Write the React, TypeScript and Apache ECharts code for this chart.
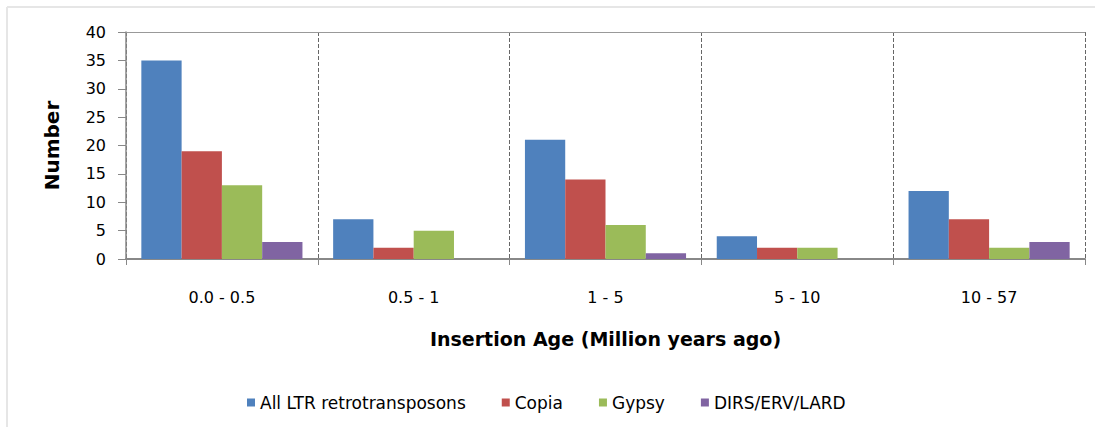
import React, { useEffect, useRef } from "react";
import * as echarts from "echarts";

const categories = ["0.0 - 0.5", "0.5 - 1", "1 - 5", "5 - 10", "10 - 57"];
const seriesNames = ["All LTR retrotransposons", "Copia", "Gypsy", "DIRS/ERV/LARD"];
const allLTR = [35, 7, 21, 4, 12];
const copia = [19, 2, 14, 2, 7];
const gypsy = [13, 5, 6, 2, 2];
const dirs = [3, 0, 1, 0, 3];
const colors = ["#4F81BD", "#C0504D", "#9BBB59", "#8064A2"];
const yTicks = { min: 0, max: 40, interval: 5 };

const FONT = "'DejaVu Sans', sans-serif";

export default function App() {
  const ref = useRef<HTMLDivElement>(null);
  useEffect(() => {
    if (!ref.current) return;
    const chart = echarts.init(ref.current, null, { renderer: "svg" });
    const values = [allLTR, copia, gypsy, dirs];
    chart.setOption({
      animation: false,
      backgroundColor: "#ffffff",
      textStyle: { fontFamily: FONT },
      grid: { left: 126, right: 10, top: 32, bottom: 168, containLabel: false },
      legend: {
        data: seriesNames,
        top: 389,
        left: 242,
        icon: "rect",
        itemWidth: 8,
        itemHeight: 8,
        itemGap: 36,
        textStyle: { fontSize: 17, color: "#000", fontFamily: FONT },
      },
      graphic: [
        {
          type: "line",
          shape: { x1: 7, y1: 7, x2: 1095, y2: 7 },
          style: { stroke: "#e6e6e6", lineWidth: 2 },
          silent: true,
        },
        {
          type: "line",
          shape: { x1: 7, y1: 7, x2: 7, y2: 427 },
          style: { stroke: "#e6e6e6", lineWidth: 2 },
          silent: true,
        },
      ],
      xAxis: [
        {
          type: "category",
          data: categories,
          name: "Insertion Age (Million years ago)",
          nameLocation: "middle",
          nameGap: 70,
          nameTextStyle: { fontSize: 19, fontWeight: "bold", color: "#000", fontFamily: FONT },
          axisLine: { lineStyle: { color: "#888", width: 2 } },
          axisTick: { show: true, length: 6, interval: 0, lineStyle: { color: "#888" } },
          axisLabel: { fontSize: 16, color: "#000", margin: 30, interval: 0 },
          splitLine: { show: true, interval: 0, lineStyle: { color: "#666", type: "dashed", width: 1 } },
        },
        {
          type: "category",
          data: categories,
          position: "top",
          axisLine: { show: true, lineStyle: { color: "#999", width: 1 } },
          axisTick: { show: false },
          axisLabel: { show: false },
          splitLine: { show: false },
        },
      ],
      yAxis: {
        type: "value",
        min: yTicks.min,
        max: yTicks.max,
        interval: yTicks.interval,
        name: "Number",
        nameLocation: "middle",
        nameGap: 64,
        nameTextStyle: { fontSize: 20, fontWeight: "bold", color: "#000", fontFamily: FONT },
        axisLine: { show: true, lineStyle: { color: "#888", width: 1.5 } },
        axisTick: { show: true, length: 8, lineStyle: { color: "#888" } },
        axisLabel: { fontSize: 16, color: "#000", margin: 20 },
        splitLine: { show: false },
      },
      series: seriesNames.map((name, i) => ({
        name,
        type: "bar",
        data: values[i],
        barGap: "0%",
        barCategoryGap: "16%",
        itemStyle: { color: colors[i] },
      })),
    });
    return () => chart.dispose();
  }, []);
  return (
    <div
      ref={ref}
      style={{ position: "absolute", left: 0, top: 0, width: 1095, height: 427 }}
    />
  );
}
